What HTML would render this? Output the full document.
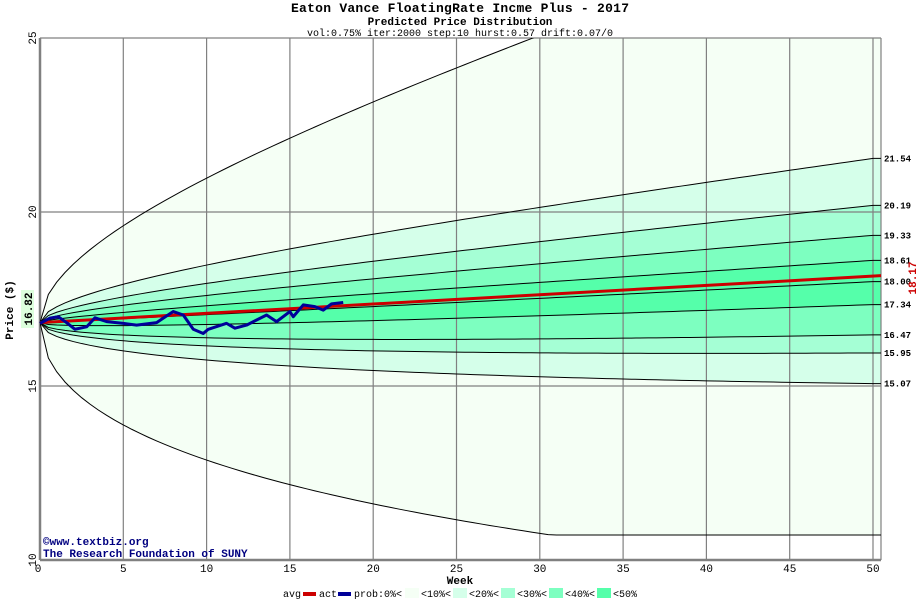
<!DOCTYPE html>
<html><head><meta charset="utf-8"><style>
body{margin:0;background:#fff;}
svg text{font-family:"Liberation Mono","DejaVu Sans Mono",monospace;}
</style></head><body>
<svg id="chart" width="920" height="600" xmlns="http://www.w3.org/2000/svg">
<defs><clipPath id="pc"><rect x="40" y="38" width="841" height="522"/></clipPath></defs>
<text x="460" y="12" text-anchor="middle" font-size="13" font-weight="bold" textLength="338">Eaton Vance FloatingRate Incme Plus - 2017</text>
<text x="460" y="25" text-anchor="middle" font-size="11" font-weight="bold">Predicted Price Distribution</text>
<text x="460" y="36" text-anchor="middle" font-size="10">vol:0.75% iter:2000 step:10 hurst:0.57 drift:0.07/0</text>
<g id="plot"></g>
<text transform="translate(13,310) rotate(-90)" text-anchor="middle" font-size="11" font-weight="bold">Price ($)</text>
<rect x="21" y="290" width="13" height="38" fill="#ddffdd"/>
<text transform="translate(32,309) rotate(-90)" text-anchor="middle" font-size="11" font-weight="bold">16.82</text>
<text transform="translate(916,278) rotate(-90)" text-anchor="middle" font-size="11" font-weight="bold" fill="#cc0000">18.17</text>
<text x="460" y="584" text-anchor="middle" font-size="11" font-weight="bold">Week</text>
<text x="43" y="545" font-size="11" font-weight="bold" fill="#000080">©www.textbiz.org</text>
<text x="43" y="557" font-size="11" font-weight="bold" fill="#000080">The Research Foundation of SUNY</text>
<g font-size="10">
<text x="283" y="597">avg</text><rect x="303" y="592" width="13" height="4" fill="#cc0000"/>
<text x="319" y="597">act</text><rect x="338" y="592" width="13" height="4" fill="#000099"/>
<text x="354" y="597">prob:0%&lt;</text><rect x="405" y="588" width="14" height="10" fill="#f5fff5"/>
<text x="421" y="597">&lt;10%&lt;</text><rect x="453" y="588" width="14" height="10" fill="#d5ffea"/>
<text x="469" y="597">&lt;20%&lt;</text><rect x="501" y="588" width="14" height="10" fill="#a5ffd5"/>
<text x="517" y="597">&lt;30%&lt;</text><rect x="549" y="588" width="14" height="10" fill="#7dffc0"/>
<text x="565" y="597">&lt;40%&lt;</text><rect x="597" y="588" width="14" height="10" fill="#55ffaa"/>
<text x="613" y="597">&lt;50%</text>
</g>
</svg>
<script>
const startPrice = 16.82;
const medianEnd = 18.00;
const avgEnd = 18.17;
const quantileEnds = [28.6, 21.54, 20.19, 19.33, 18.61, 18.00, 17.34, 16.47, 15.95, 15.07, 9.6];
const quantileLabels = ["", "21.54", "20.19", "19.33", "18.61", "18.00", "17.34", "16.47", "15.95", "15.07", ""];
const bandColors = ["#f5fff5","#d5ffea","#a5ffd5","#7dffc0","#55ffaa","#55ffaa","#7dffc0","#a5ffd5","#d5ffea","#f5fff5"];
const actWeeks = [0,0.6,1.1,1.6,2.1,2.8,3.3,4,5,5.8,7,7.4,8,8.6,9.2,9.8,10.1,11.2,11.7,12.4,13.6,14.2,15,15.2,15.8,16.5,17,17.5,18.2];
const actPrices = [16.80,16.95,16.99,16.82,16.63,16.70,16.96,16.85,16.80,16.75,16.82,16.95,17.14,17.04,16.63,16.51,16.63,16.80,16.66,16.75,17.04,16.85,17.14,16.99,17.33,17.28,17.18,17.36,17.40];
const xTicks = [0,5,10,15,20,25,30,35,40,45,50];
const yTicks = [10,15,20,25];

const X0=40, X1=873, Y25=38, Y10=560, PR=881;
const xs = w => X0 + (X1-X0)*w/50;
const ys = p => Y25 + (25-p)*(Y10-Y25)/15;
const NS='http://www.w3.org/2000/svg';
const plot=document.getElementById('plot');
function mk(tag,attrs,parent){const e=document.createElementNS(NS,tag);for(const k in attrs)e.setAttribute(k,attrs[k]);(parent||plot).appendChild(e);return e;}
const clipG=mk('g',{'clip-path':'url(#pc)'});


const drift=Math.log(medianEnd/startPrice);
function qv(F,t){const s=Math.log(F/startPrice)-drift;let v=startPrice*Math.exp(drift*t/50+s*Math.pow(t/50,0.5));return Math.max(10.72,Math.min(25.5,v));}
const steps=[];for(let t=0;t<=50.001;t+=0.5)steps.push(t);
const bg=mk('rect',{x:X0,y:Y25,width:PR-X0,height:Y10-Y25,fill:'#ffffff'},clipG);


for(let i=0;i<quantileEnds.length-1;i++){
  const a=steps.map(t=>xs(t)+','+ys(qv(quantileEnds[i],t)));
  const b=steps.slice().reverse().map(t=>xs(t)+','+ys(qv(quantileEnds[i+1],t)));
  const p=mk('polygon',{points:a.concat([PR+','+ys(qv(quantileEnds[i],50)),PR+','+ys(qv(quantileEnds[i+1],50))]).concat(b).join(' '),fill:bandColors[i]},clipG);
  
  
}
xTicks.forEach(w=>{
  const l=mk('line',{x1:xs(w),x2:xs(w),y1:Y25,y2:Y10,stroke:'#808080','stroke-width':w===0?2.5:1.2});
  
  
  const tx=mk('text',{x:xs(w)-(w===0?2:0),y:572,'text-anchor':'middle','font-size':11});
  tx.textContent=w;
  
  
});
const rb=mk('line',{x1:PR,x2:PR,y1:Y25,y2:Y10,stroke:'#808080','stroke-width':1.2});


yTicks.forEach(p=>{
  const l=mk('line',{x1:X0,x2:PR,y1:ys(p),y2:ys(p),stroke:'#808080','stroke-width':p===10?2.5:1.2});
  
  
  const tx=mk('text',{transform:'translate(36,'+ys(p)+') rotate(-90)','text-anchor':'middle','font-size':11});
  tx.textContent=p;
  
  
});
const lineG=mk('g',{'clip-path':'url(#pc)'});
quantileEnds.forEach((F,i)=>{
  const pts=steps.map(t=>xs(t)+','+ys(qv(F,t)));pts.push(PR+','+ys(qv(F,50)));
  const l=mk('polyline',{points:pts.join(' '),fill:'none',stroke:'#000','stroke-width':1},lineG);
  
  
  if(quantileLabels[i]){
    const tx=mk('text',{x:884,y:ys(F)+3,'font-size':9,'font-weight':'bold'});
    tx.textContent=quantileLabels[i];
    
    
  }
});
const avg=mk('line',{x1:xs(0),y1:ys(startPrice),x2:PR,y2:ys(avgEnd),stroke:'#cc0000','stroke-width':3});


const act=mk('polyline',{points:actWeeks.map((w,i)=>xs(w)+','+ys(actPrices[i])).join(' '),fill:'none',stroke:'#000099','stroke-width':3,'stroke-linejoin':'round'});


</script>
</body></html>
